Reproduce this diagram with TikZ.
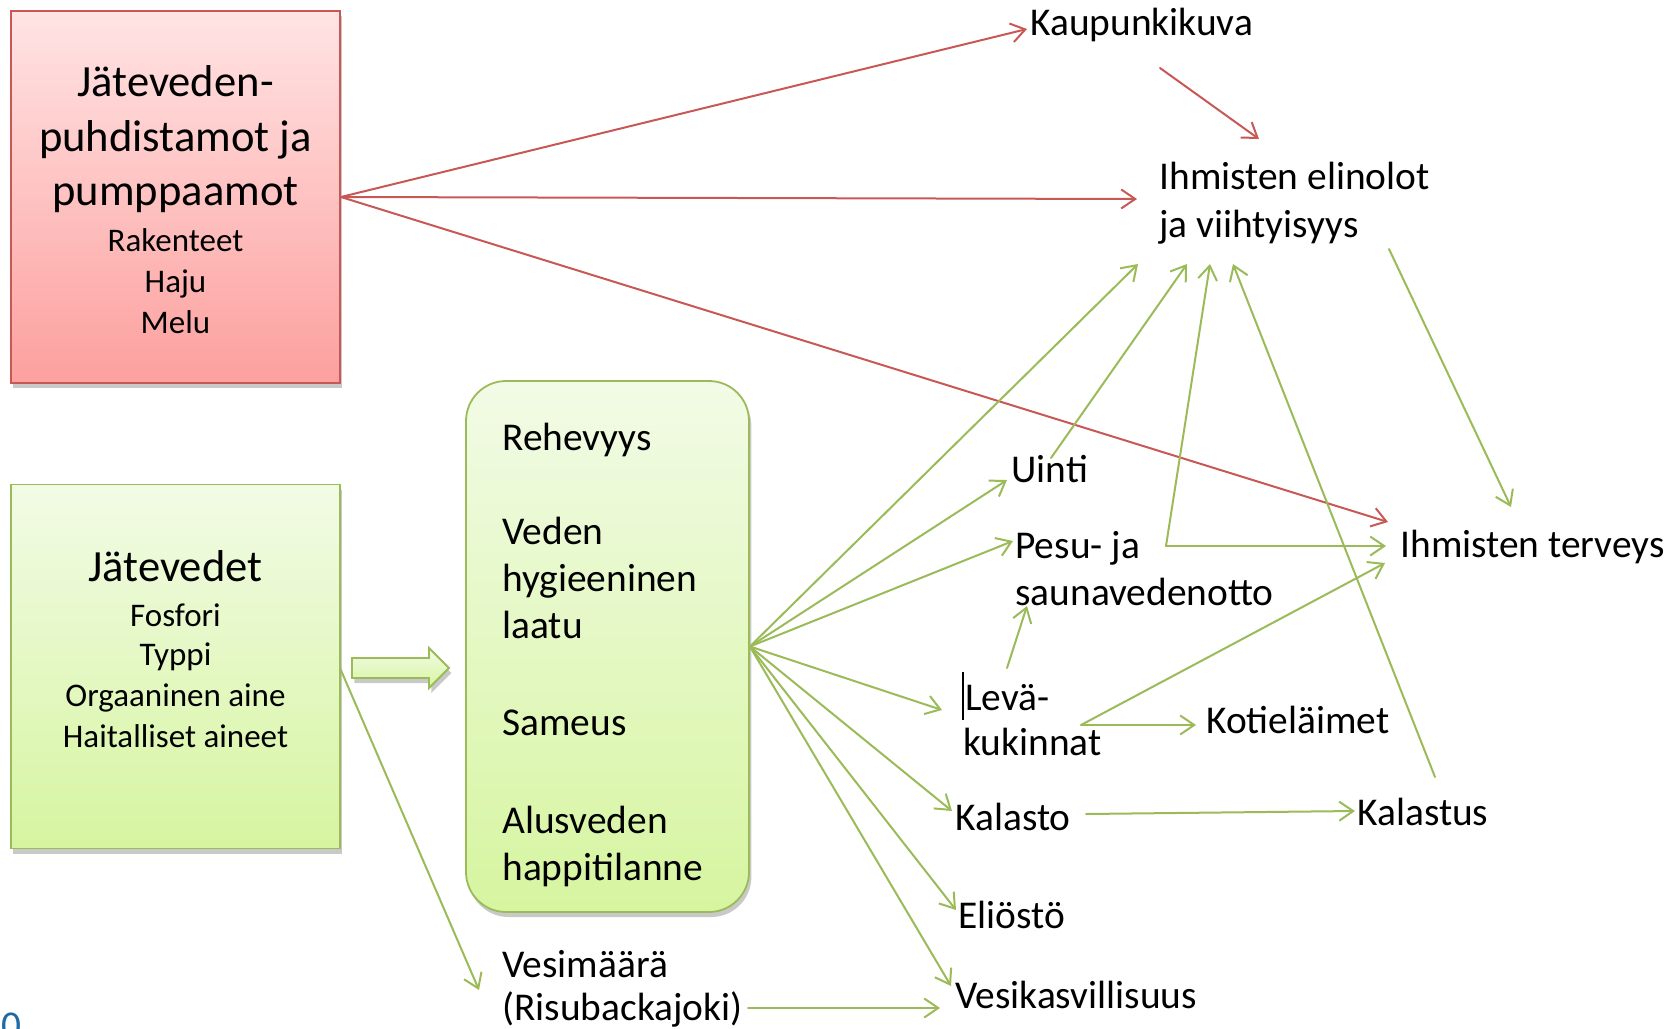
\documentclass[tikz,border=0pt]{standalone}
\usepackage{fontspec}
\setmainfont{Carlito}
\usetikzlibrary{arrows.meta,shadows}

\definecolor{accRed}{RGB}{200,88,86}
\definecolor{accGreen}{RGB}{155,187,89}
\definecolor{pinkTop}{RGB}{255,228,228}
\definecolor{pinkBot}{RGB}{252,160,158}
\definecolor{limeTop}{RGB}{242,251,230}
\definecolor{limeBot}{RGB}{214,245,160}
\definecolor{numBlue}{RGB}{31,105,165}

\tikzset{
  boxshadow/.style={drop shadow={shadow xshift=1.2pt,shadow yshift=-2.5pt,opacity=0.3,fill=black!70}},
  redbox/.style={draw=accRed,line width=0.9pt,top color=pinkTop,bottom color=pinkBot,boxshadow,inner sep=0pt},
  limebox/.style={draw=accGreen,line width=0.9pt,top color=limeTop,bottom color=limeBot,boxshadow,inner sep=0pt},
  txt/.style={inner sep=0pt,anchor=base west},
  ctxt/.style={inner sep=0pt,anchor=base},
  bigf/.style={font=\fontsize{22.3}{27}\selectfont},
  smallf/.style={font=\fontsize{16.5}{20}\selectfont},
  lblf/.style={font=\fontsize{19.7}{24}\selectfont},
  tip/.style={-{Straight Barb[length=7pt,width=9.5pt]},line width=1pt,line cap=round,line join=round},
  redarr/.style={tip,draw=accRed},
  greenarr/.style={tip,draw=accGreen},
}

\begin{document}
\begin{tikzpicture}[x=0.5pt,y=-0.5pt]
\useasboundingbox (0,0) rectangle (1678,1029);

% boxes
\node[redbox,minimum width=164.5pt,minimum height=186pt] (plant) at (175.5,197) {};
\node[limebox,minimum width=164.5pt,minimum height=182pt] (waste) at (175.5,666.5) {};
\node[limebox,rounded corners=20pt,minimum width=141.5pt,minimum height=265.5pt] (effects) at (607.5,646.5) {};

% block arrow between the green boxes
\draw[draw=accGreen,line width=0.9pt,top color=limeTop,bottom color=limeBot,boxshadow,line join=miter]
  (352,658) -- (429,658) -- (429,648) -- (449,668) -- (429,688) -- (429,678) -- (352,678) -- cycle;

% text of the red box
\node[ctxt,bigf] (p1) at (175.5,96) {Jäteveden-};
\node[ctxt,bigf] (p2) at (175.5,151) {puhdistamot ja};
\node[ctxt,bigf] (p3) at (175.5,205) {pumppaamot};
\node[ctxt,smallf] (p4) at (175.5,251) {Rakenteet};
\node[ctxt,smallf] (p5) at (175.5,292) {Haju};
\node[ctxt,smallf] (p6) at (175.5,333) {Melu};

% text of the green box
\node[ctxt,bigf] (w1) at (175.5,581) {Jätevedet};
\node[ctxt,smallf] (w2) at (175.5,626) {Fosfori};
\node[ctxt,smallf] (w3) at (175.5,665) {Typpi};
\node[ctxt,smallf] (w4) at (175.5,706) {Orgaaninen aine};
\node[ctxt,smallf] (w5) at (175.5,747) {Haitalliset aineet};

% text of the rounded box
\node[txt,lblf] (e1) at (502,450) {Rehevyys};
\node[txt,lblf] (e2) at (502,544) {Veden};
\node[txt,lblf] (e3) at (502,591) {hygieeninen};
\node[txt,lblf] (e4) at (502,638) {laatu};
\node[txt,lblf] (e5) at (502,735) {Sameus};
\node[txt,lblf] (e6) at (502,833) {Alusveden};
\node[txt,lblf] (e7) at (502,880) {happitilanne};

% labels on the right
\node[txt,lblf] (kaup) at (1030,35) {Kaupunkikuva};
\node[txt,lblf] (elin1) at (1159,189) {Ihmisten elinolot};
\node[txt,lblf] (elin2) at (1159,237) {ja viihtyisyys};
\node[txt,lblf] (uinti) at (1011,482) {Uinti};
\node[txt,lblf] (pesu1) at (1015,558) {Pesu- ja};
\node[txt,lblf] (pesu2) at (1015,605) {saunavedenotto};
\node[txt,lblf] (leva1) at (965,710) {Levä-};
\node[txt,lblf] (leva2) at (963,755) {kukinnat};
\node[txt,lblf] (koti) at (1206,733) {Kotieläimet};
\node[txt,lblf] (terv) at (1400,557) {Ihmisten terveys};
\node[txt,lblf] (kalasto) at (955,830) {Kalasto};
\node[txt,lblf] (kalastus) at (1357,825) {Kalastus};
\node[txt,lblf] (elio) at (958,928) {Eliöstö};
\node[txt,lblf] (vesik) at (955,1008) {Vesikasvillisuus};
\node[txt,lblf] (vesim1) at (502,977) {Vesimäärä};
\node[txt,lblf] (vesim2) at (502,1020) {(Risubackajoki)};
\node[txt,lblf,text=numBlue] (pagenum) at (1,1038) {0};

% text cursor beside Levä-
\draw[line width=0.6pt] (963,672) -- (963,720);

% connector end points
\coordinate (kaupIn) at (1027,29);
\coordinate (kaupOut) at (1160,68);
\coordinate (elinIn) at (1137,199);
\coordinate (elinInB) at (1259,139);
\coordinate (elinA) at (1138,264);
\coordinate (elinB) at (1187,264);
\coordinate (elinC) at (1210,264);
\coordinate (elinD) at (1233,264);
\coordinate (elinOut) at (1389,249);
\coordinate (tervA) at (1388,522);
\coordinate (tervB) at (1386,546);
\coordinate (tervC) at (1385,563);
\coordinate (tervTop) at (1511,507);
\coordinate (uintiIn) at (1007,480);
\coordinate (uintiOut) at (1051,458);
\coordinate (pesuIn) at (1013,541);
\coordinate (pesuOut) at (1166,546);
\coordinate (saunaIn) at (1027,606);
\coordinate (levaIn) at (942,710);
\coordinate (levaUp) at (1007,668);
\coordinate (levaOut) at (1081,725);
\coordinate (kotiIn) at (1196,725);
\coordinate (kalastoIn) at (952,811);
\coordinate (kalastoOut) at (1086,814);
\coordinate (kalastusIn) at (1355,811);
\coordinate (kalastusOut) at (1435,777);
\coordinate (elioIn) at (956,910);
\coordinate (vesikIn) at (951,986);
\coordinate (vesikInB) at (940,1008);
\coordinate (wasteOut) at (340,668);
\coordinate (vesimIn) at (479,990);
\coordinate (risuOut) at (748,1008);

% red connectors
\draw[redarr] (plant.east) -- (kaupIn);
\draw[redarr] (plant.east) -- (elinIn);
\draw[redarr] (plant.east) -- (tervA);
\draw[redarr] (kaupOut) -- (elinInB);

% green connectors from the rounded box
\draw[greenarr] (effects.east) -- (elinA);
\draw[greenarr] (effects.east) -- (uintiIn);
\draw[greenarr] (effects.east) -- (pesuIn);
\draw[greenarr] (effects.east) -- (levaIn);
\draw[greenarr] (effects.east) -- (kalastoIn);
\draw[greenarr] (effects.east) -- (elioIn);
\draw[greenarr] (effects.east) -- (vesikIn);

% further green connectors
\draw[greenarr] (uintiOut) -- (elinB);
\draw[greenarr] (pesuOut) -- (elinC);
\draw[greenarr] (pesuOut) -- (tervB);
\draw[greenarr] (kalastusOut) -- (elinD);
\draw[greenarr] (elinOut) -- (tervTop);
\draw[greenarr] (levaUp) -- (saunaIn);
\draw[greenarr] (levaOut) -- (tervC);
\draw[greenarr] (levaOut) -- (kotiIn);
\draw[greenarr] (kalastoOut) -- (kalastusIn);
\draw[greenarr] (wasteOut) -- (vesimIn);
\draw[greenarr] (risuOut) -- (vesikInB);
\end{tikzpicture}
\end{document}
